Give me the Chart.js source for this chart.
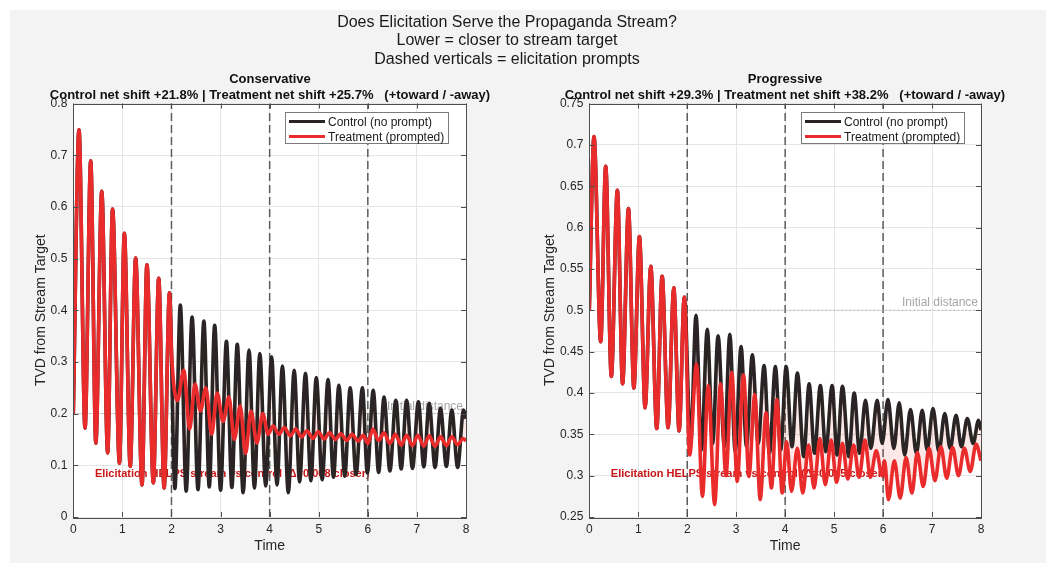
<!DOCTYPE html>
<html>
<head>
<meta charset="utf-8">
<title>Does Elicitation Serve the Propaganda Stream?</title>
<script src="https://cdn.jsdelivr.net/npm/chart.js@4.4.1/dist/chart.umd.min.js"></script>
<style>
  html, body { margin: 0; padding: 0; background: #fff; }
  body { position: relative; width: 1056px; height: 573px; overflow: hidden;
         font-family: "Liberation Sans", Arial, Helvetica, sans-serif; color: #1a1a1a; }
  #frame { position: absolute; left: 10px; top: 10px; width: 1036px; height: 553px; background: #f4f3f4; }
  canvas { position: absolute; top: 0; }
  #cons { left: 0; }
  #prog { left: 528px; }
  .suptitle { position: absolute; left: 0; width: 1014px; top: 13px; text-align: center;
              font-size: 16px; line-height: 18.3px; }
  .axtitle { position: absolute; top: 71px; width: 600px; text-align: center; font-weight: bold;
             font-size: 13px; line-height: 15.5px; white-space: pre; color: #111; }
  .legend { position: absolute; top: 112px; width: 162px; height: 30px; background: #fff;
            border: 1px solid #7a7a7a; font-size: 12px; color: #1a1a1a; }
  .legend .row { position: absolute; left: 3px; height: 15px; line-height: 15px; white-space: nowrap; }
  .legend .swatch { display: inline-block; width: 36px; height: 3px; vertical-align: middle;
                    margin-right: 3px; position: relative; top: -1px; }
</style>
</head>
<body>
<div id="frame"></div>
<canvas id="cons" width="528" height="573"></canvas>
<canvas id="prog" width="528" height="573"></canvas>

<div class="suptitle">Does Elicitation Serve the Propaganda Stream?<br>Lower = closer to stream target<br>Dashed verticals = elicitation prompts</div>

<div class="axtitle" id="consTitle" style="left: -30px;"></div>
<div class="axtitle" id="progTitle" style="left: 485px;"></div>

<div class="legend" style="left: 285px;">
  <div class="row" style="top: 2px;"><span class="swatch" style="background:#2a2424"></span>Control (no prompt)</div>
  <div class="row" style="top: 17px;"><span class="swatch" style="background:#ea2b2b"></span>Treatment (prompted)</div>
</div>
<div class="legend" style="left: 801px;">
  <div class="row" style="top: 2px;"><span class="swatch" style="background:#2a2424"></span>Control (no prompt)</div>
  <div class="row" style="top: 17px;"><span class="swatch" style="background:#ea2b2b"></span>Treatment (prompted)</div>
</div>

<script>
// ---- values ----
const xTicks = [0, 1, 2, 3, 4, 5, 6, 7, 8];
const promptTimes = [2, 4, 6];

// Conservative
const consYTicks = [0, 0.1, 0.2, 0.3, 0.4, 0.5, 0.6, 0.7, 0.8];
const consInitial = 0.2;
const consNetShift = ["+21.8%", "+25.7%"];
const consDelta = "0.008";
// before the first prompt control and treatment are the same run
const consWarmT = [0, 0.116, 0.239, 0.355, 0.459, 0.58, 0.70, 0.80, 0.94, 1.04, 1.16, 1.27, 1.40, 1.50, 1.63, 1.74, 1.85, 1.96];
const consWarmV = [0.2, 0.749, 0.172, 0.689, 0.143, 0.63, 0.124, 0.596, 0.104, 0.549, 0.098, 0.501, 0.062, 0.488, 0.066, 0.462, 0.056, 0.434];
const consCtrlT = [2.07, 2.18, 2.30, 2.42, 2.54, 2.66, 2.77, 2.88, 3.00, 3.12,
                   3.23, 3.34, 3.46, 3.58, 3.69, 3.80, 3.92, 4.04, 4.15, 4.26,
                   4.38, 4.50, 4.61, 4.73, 4.84, 4.95, 5.07, 5.19, 5.30, 5.41,
                   5.53, 5.64, 5.76, 5.89, 5.99, 6.11, 6.22, 6.33, 6.45, 6.57,
                   6.68, 6.79, 6.91, 7.03, 7.14, 7.25, 7.37, 7.48, 7.60, 7.71,
                   7.83, 7.95, 8.0];
const consCtrlV = [0.055, 0.41, 0.05, 0.387, 0.053, 0.379, 0.058, 0.371, 0.052, 0.34,
                   0.057, 0.334, 0.047, 0.323, 0.056, 0.316, 0.06, 0.31, 0.062, 0.292,
                   0.047, 0.284, 0.068, 0.278, 0.07, 0.27, 0.072, 0.266, 0.077, 0.255,
                   0.079, 0.25, 0.082, 0.25, 0.085, 0.245, 0.086, 0.232, 0.089, 0.226,
                   0.093, 0.226, 0.094, 0.223, 0.097, 0.22, 0.096, 0.21, 0.098, 0.207,
                   0.096, 0.207, 0.19];
const consTreatT = [2.0, 2.12, 2.25, 2.37, 2.48, 2.59, 2.70, 2.82, 2.93, 3.05,
                    3.17, 3.28, 3.40, 3.51, 3.62, 3.74, 3.86, 3.97, 4.07, 4.19,
                    4.30, 4.42, 4.53, 4.65, 4.76, 4.88, 4.99, 5.11, 5.22, 5.34,
                    5.45, 5.57, 5.68, 5.80, 5.91, 6.0, 6.10, 6.22, 6.33, 6.45,
                    6.56, 6.68, 6.79, 6.91, 7.02, 7.14, 7.25, 7.37, 7.48, 7.60,
                    7.71, 7.83, 7.94, 8.0];
const consTreatV = [0.32, 0.225, 0.284, 0.17, 0.257, 0.205, 0.25, 0.16, 0.24, 0.185,
                    0.232, 0.15, 0.215, 0.123, 0.205, 0.143, 0.2, 0.16, 0.176, 0.16,
                    0.173, 0.157, 0.17, 0.155, 0.167, 0.152, 0.165, 0.151, 0.163, 0.15,
                    0.161, 0.148, 0.16, 0.147, 0.158, 0.142, 0.17, 0.148, 0.163, 0.142,
                    0.16, 0.139, 0.158, 0.138, 0.158, 0.137, 0.157, 0.137, 0.155, 0.138,
                    0.155, 0.14, 0.152, 0.147];

// Progressive
const progYTicks = [0.25, 0.3, 0.35, 0.4, 0.45, 0.5, 0.55, 0.6, 0.65, 0.7, 0.75];
const progInitial = 0.5;
const progNetShift = ["+29.3%", "+38.2%"];
const progDelta = "0.045";
const progWarmT = [0, 0.096, 0.233, 0.335, 0.45, 0.573, 0.68, 0.80, 0.91, 1.024, 1.14, 1.255, 1.378, 1.487, 1.61, 1.725, 1.835, 1.94];
const progWarmV = [0.5, 0.71, 0.462, 0.674, 0.42, 0.645, 0.411, 0.623, 0.406, 0.589, 0.382, 0.553, 0.357, 0.541, 0.358, 0.527, 0.354, 0.516];
const progCtrlT = [2.07, 2.18, 2.29, 2.41, 2.52, 2.63, 2.76, 2.87, 2.98, 3.10,
                   3.21, 3.33, 3.45, 3.57, 3.68, 3.80, 3.91, 4.02, 4.14, 4.25,
                   4.38, 4.49, 4.60, 4.72, 4.83, 4.96, 5.06, 5.17, 5.30, 5.41,
                   5.52, 5.64, 5.75, 5.88, 5.98, 6.10, 6.22, 6.33, 6.44, 6.56,
                   6.68, 6.80, 6.90, 7.02, 7.14, 7.26, 7.37, 7.49, 7.60, 7.72,
                   7.84, 7.95, 8.0];
const progCtrlV = [0.339, 0.494, 0.331, 0.477, 0.339, 0.469, 0.335, 0.471, 0.329, 0.456,
                   0.335, 0.446, 0.339, 0.433, 0.327, 0.432, 0.331, 0.432, 0.335, 0.424,
                   0.323, 0.411, 0.327, 0.409, 0.329, 0.409, 0.325, 0.408, 0.323, 0.40,
                   0.327, 0.391, 0.333, 0.391, 0.339, 0.392, 0.333, 0.388, 0.325, 0.38,
                   0.327, 0.379, 0.331, 0.381, 0.329, 0.375, 0.333, 0.373, 0.335, 0.369,
                   0.339, 0.367, 0.355];
const progTreatT = [2.05, 2.19, 2.31, 2.43, 2.56, 2.68, 2.79, 2.91, 3.02, 3.15,
                    3.26, 3.38, 3.49, 3.61, 3.72, 3.83, 3.94, 4.03, 4.13, 4.25,
                    4.36, 4.48, 4.59, 4.71, 4.82, 4.94, 5.05, 5.17, 5.28, 5.40,
                    5.51, 5.63, 5.74, 5.86, 5.98, 6.03, 6.11, 6.23, 6.35, 6.47,
                    6.59, 6.70, 6.82, 6.94, 7.06, 7.18, 7.30, 7.42, 7.54, 7.66,
                    7.78, 7.90, 8.0];
const progTreatV = [0.325, 0.435, 0.275, 0.409, 0.265, 0.411, 0.3, 0.425, 0.293, 0.422,
                    0.299, 0.398, 0.271, 0.376, 0.285, 0.392, 0.279, 0.341, 0.281, 0.333,
                    0.279, 0.337, 0.285, 0.345, 0.289, 0.343, 0.292, 0.339, 0.296, 0.337,
                    0.298, 0.343, 0.298, 0.33, 0.3, 0.318, 0.271, 0.318, 0.273, 0.322,
                    0.279, 0.328, 0.287, 0.333, 0.294, 0.335, 0.297, 0.334, 0.3, 0.333,
                    0.305, 0.338, 0.318];

// ---- styles ----
const family = '"Liberation Sans", Arial, Helvetica, sans-serif';
Chart.defaults.font.family = family;
const axisColor = '#4d4d4d';
const tickColor = '#262626';
const gridColor = '#e5e5e5';
const ctrlColor = '#2a2424';
const treatColor = '#ea2b2b';
const fillColor = 'rgba(235, 43, 43, 0.11)';
const lineWidth = 3.6;

function toPoints(ts, vs) {
    return ts.map((t, i) => ({x: t, y: vs[i]}));
}

// white axes background, text notes, and a MATLAB-like box with inward ticks
const decor = {
    id: 'decor',
    beforeDraw(chart) {
        const {ctx, chartArea: a} = chart;
        ctx.save();
        ctx.fillStyle = '#fff';
        ctx.fillRect(a.left, a.top, a.right - a.left, a.bottom - a.top);
        ctx.restore();
    },
    beforeDatasetsDraw(chart, args, opts) {
        const {ctx, chartArea: a, scales} = chart;
        ctx.save();
        const yi = scales.y.getPixelForValue(opts.initial);
        ctx.font = '12px ' + family;
        ctx.fillStyle = '#a5a5a5';
        ctx.textAlign = 'right';
        ctx.textBaseline = 'alphabetic';
        ctx.fillText('Initial distance', a.right - 3, yi - 4);

        ctx.font = 'bold 11px ' + family;
        ctx.fillStyle = '#c91515';
        ctx.textAlign = 'left';
        ctx.textBaseline = 'middle';
        ctx.fillText(opts.note, a.left + 0.055 * (a.right - a.left), a.bottom - 0.105 * (a.bottom - a.top));
        ctx.restore();
    },
    afterDraw(chart) {
        const {ctx, chartArea: a, scales} = chart;
        ctx.save();
        ctx.strokeStyle = axisColor;
        ctx.lineWidth = 1;
        ctx.strokeRect(Math.round(a.left) + 0.5, Math.round(a.top) + 0.5,
                       Math.round(a.right - a.left), Math.round(a.bottom - a.top));
        ctx.beginPath();
        scales.x.ticks.forEach(t => {
            const px = Math.round(scales.x.getPixelForValue(t.value)) + 0.5;
            ctx.moveTo(px, a.bottom); ctx.lineTo(px, a.bottom - 5);
            ctx.moveTo(px, a.top); ctx.lineTo(px, a.top + 5);
        });
        scales.y.ticks.forEach(t => {
            const py = Math.round(scales.y.getPixelForValue(t.value)) + 0.5;
            ctx.moveTo(a.left, py); ctx.lineTo(a.left + 5, py);
            ctx.moveTo(a.right, py); ctx.lineTo(a.right - 5, py);
        });
        ctx.stroke();
        ctx.restore();
    }
};

function makePanel(canvasId, cfg) {
    const warm = toPoints(cfg.warmT, cfg.warmV);
    const ctrl = warm.concat(toPoints(cfg.ctrlT, cfg.ctrlV));
    const treat = warm.concat(toPoints(cfg.treatT, cfg.treatV));
    const yMin = cfg.yTicks[0];
    const yMax = cfg.yTicks[cfg.yTicks.length - 1];

    const datasets = [
        {
            label: 'Treatment (prompted)', data: treat,
            borderColor: treatColor, borderWidth: lineWidth, pointRadius: 0,
            cubicInterpolationMode: 'monotone', borderJoinStyle: 'round',
            fill: false, order: 0
        },
        {
            label: 'Control (no prompt)', data: ctrl,
            borderColor: ctrlColor, borderWidth: lineWidth, pointRadius: 0,
            cubicInterpolationMode: 'monotone', borderJoinStyle: 'round',
            backgroundColor: fillColor,
            fill: {target: 0, above: fillColor, below: fillColor}, order: 1
        },
        {
            label: 'Initial distance',
            data: [{x: xTicks[0], y: cfg.initial}, {x: xTicks[xTicks.length - 1], y: cfg.initial}],
            borderColor: '#b4b4b4', borderWidth: 1, borderDash: [2, 2], pointRadius: 0,
            fill: false, order: 2
        }
    ];
    promptTimes.forEach(t => {
        datasets.push({
            label: 'prompt', data: [{x: t, y: yMin}, {x: t, y: yMax}],
            borderColor: '#5c5c5c', borderWidth: 1.5, borderDash: [8, 4], pointRadius: 0,
            fill: false, order: 2
        });
    });

    new Chart(document.getElementById(canvasId), {
        type: 'line',
        data: {datasets: datasets},
        options: {
            responsive: false,
            animation: false,
            events: [],
            layout: {padding: {top: 103.5, right: cfg.padRight, bottom: 0, left: 0}},
            plugins: {
                legend: {display: false},
                tooltip: {enabled: false},
                decor: {initial: cfg.initial, note: cfg.note}
            },
            scales: {
                x: {
                    type: 'linear', min: xTicks[0], max: xTicks[xTicks.length - 1],
                    afterBuildTicks: s => { s.ticks = xTicks.map(v => ({value: v})); },
                    afterFit: s => { s.height = 56; },
                    grid: {color: gridColor, drawTicks: false},
                    border: {display: false},
                    ticks: {color: tickColor, font: {size: 12}, padding: 5, maxRotation: 0, autoSkip: false},
                    title: {display: true, text: 'Time', color: tickColor, font: {size: 14},
                            padding: {top: 0, bottom: 18.6}}
                },
                y: {
                    type: 'linear', min: yMin, max: yMax,
                    afterBuildTicks: s => { s.ticks = cfg.yTicks.map(v => ({value: v})); },
                    afterFit: s => { s.width = cfg.yWidth; },
                    grid: {color: gridColor, drawTicks: false},
                    border: {display: false},
                    ticks: {color: tickColor, font: {size: 12}, padding: 6, autoSkip: false,
                            callback: v => String(+v.toFixed(2))},
                    title: {display: true, text: 'TVD from Stream Target', color: tickColor, font: {size: 14},
                            padding: {top: cfg.yTitlePad, bottom: 0}}
                }
            }
        },
        plugins: [decor]
    });
}

function shiftLine(net) {
    return 'Control net shift ' + net[0] + ' | Treatment net shift ' + net[1] + '   (+toward / -away)';
}

document.getElementById('consTitle').textContent = 'Conservative\n' + shiftLine(consNetShift);
document.getElementById('progTitle').textContent = 'Progressive\n' + shiftLine(progNetShift);

makePanel('cons', {
    yTicks: consYTicks, initial: consInitial,
    warmT: consWarmT, warmV: consWarmV,
    ctrlT: consCtrlT, ctrlV: consCtrlV,
    treatT: consTreatT, treatV: consTreatV,
    note: 'Elicitation HELPS stream vs control (\u0394=' + consDelta + ' closer)',
    yWidth: 73.3, yTitlePad: 32.6, padRight: 62
});

makePanel('prog', {
    yTicks: progYTicks, initial: progInitial,
    warmT: progWarmT, warmV: progWarmV,
    ctrlT: progCtrlT, ctrlV: progCtrlV,
    treatT: progTreatT, treatV: progTreatV,
    note: 'Elicitation HELPS stream vs control (\u0394=' + progDelta + ' closer)',
    yWidth: 61.3, yTitlePad: 13.6, padRight: 75
});
</script>
</body>
</html>
